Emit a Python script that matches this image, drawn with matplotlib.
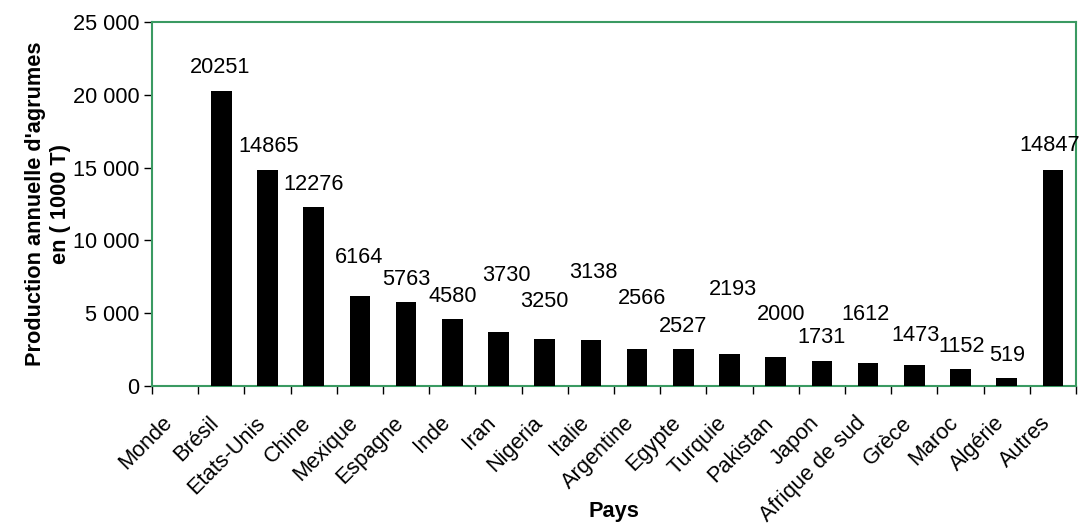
import numpy as np
import matplotlib
matplotlib.use("Agg")
import matplotlib.pyplot as plt
import matplotlib.transforms as mtransforms
from matplotlib.ticker import FuncFormatter

pays = ['Monde', 'Brésil', 'Etats-Unis', 'Chine', 'Mexique', 'Espagne', 'Inde',
        'Iran', 'Nigeria', 'Italie', 'Argentine', 'Egypte', 'Turquie', 'Pakistan',
        'Japon', 'Afrique de sud', 'Grèce', 'Maroc', 'Algérie', 'Autres']
# Monde has no bar drawn
production = [np.nan, 20251, 14865, 12276, 6164, 5763, 4580, 3730, 3250, 3138,
              2566, 2527, 2193, 2000, 1731, 1612, 1473, 1152, 519, 14847]

# hand-placed label offsets (pixels from bar top)
label_dx = [0, -1.5, 1, -0.5, -1, 0, 0, 8, 0, 2.5, 5, 0, 3, 5, -0.5, -2.5, 1, 1, 0, -3.5]
label_dy = [0, 24, 23, 23, 39, 23, 23, 56, 37, 68, 50, 23, 65, 42, 23, 48, 29, 23, 23, 24]

plt.rcParams['font.family'] = ['Liberation Sans', 'DejaVu Sans']
green = '#3a9a62'
fs = 15.7

fig = plt.figure(figsize=(10.81, 5.29), dpi=100)
ax = fig.add_axes([152 / 1081, 1 - 386 / 529, 924 / 1081, 364 / 529])

x = np.arange(len(pays))
ax.bar(x, production, width=0.45, color='black', zorder=3)

for i, v in enumerate(production):
    if np.isnan(v):
        continue
    ax.annotate(str(v), xy=(x[i], v), xytext=(label_dx[i], label_dy[i]),
                textcoords='offset pixels', ha='center', va='center',
                fontsize=fs, color='black')

ax.set_xlim(-0.5, len(pays) - 0.5)
ax.set_ylim(0, 25000)
ax.set_yticks(range(0, 25001, 5000))
ax.yaxis.set_major_formatter(FuncFormatter(lambda v, p: f'{int(v):,}'.replace(',', ' ')))
ax.tick_params(axis='y', labelsize=fs, length=6, width=1, direction='out', pad=3)

# labels at the centres, tick marks on the category boundaries
ax.set_xticks(x)
ax.set_xticklabels(pays, rotation=45, ha='right', va='top', rotation_mode='anchor')
ax.tick_params(axis='x', which='major', length=0, labelsize=fs, pad=19)
ax.set_xticks(np.arange(-0.5, len(pays), 1), minor=True)
ax.tick_params(axis='x', which='minor', length=6, width=1, direction='out')
shift = mtransforms.ScaledTranslation(-13 / 100, 0, fig.dpi_scale_trans)
for lbl in ax.get_xticklabels():
    lbl.set_transform(lbl.get_transform() + shift)

for s in ax.spines.values():
    s.set_color(green)
    s.set_linewidth(1.5)

fig.text(48 / 1081, 1 - 204 / 529, "Production annuelle d'agrumes\nen ( 1000 T)",
         rotation=90, ha='center', va='center', multialignment='center',
         fontsize=fs, fontweight='bold', linespacing=1.25)
fig.text(614 / 1081, 1 - 512 / 529, 'Pays', ha='center', va='center',
         fontsize=fs, fontweight='bold')

fig.savefig('out.png', dpi=100)
